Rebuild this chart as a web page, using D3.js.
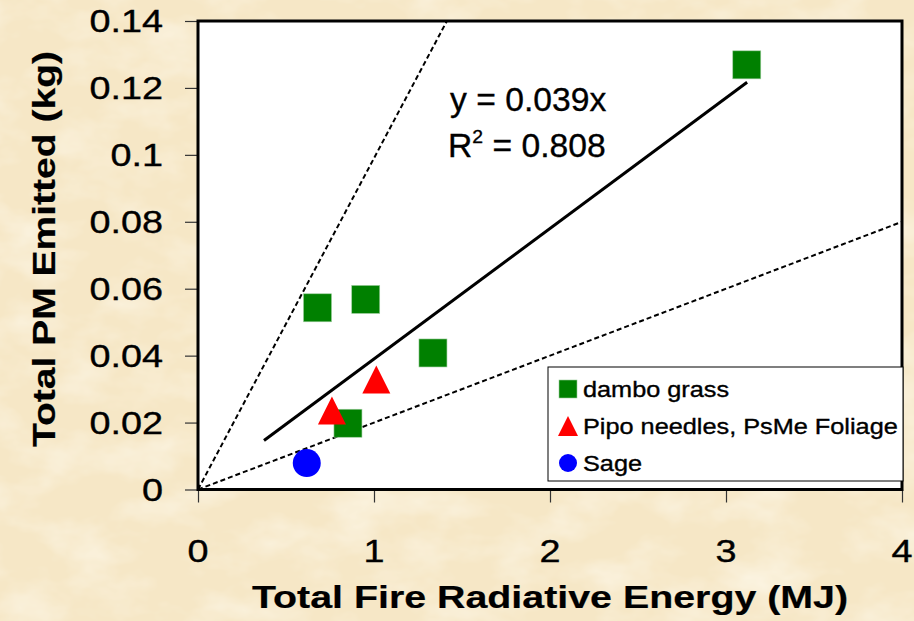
<!DOCTYPE html>
<html>
<head>
<meta charset="utf-8">
<script src="https://cdn.jsdelivr.net/npm/d3@7"></script>
<style>
  body { margin: 0; background: #f7e9cb; }
  svg { display: block; font-family: "Liberation Sans", Arial, sans-serif; }
</style>
</head>
<body>
<div id="chart"></div>
<script>
//Data
var dambo = [[0.679, 0.0543], [0.953, 0.0568], [1.335, 0.0408], [0.852, 0.0198], [3.118, 0.1269]];
var pipo = [[1.013, 0.0329], [0.761, 0.0236]];
var sage = [[0.618, 0.0079]];
var seriesNames = ["dambo grass", "Pipo needles, PsMe Foliage", "Sage"];
var seriesColors = ["#008000", "#ff0000", "#0000ff"];
var seriesShapes = ["square", "triangle", "circle"];
var trendSlope = 0.039;
var trendRange = [0.375, 3.12];
var boundSlopes = [0.099, 0.02];
var xTicks = [0, 1, 2, 3, 4];
var yTicks = [0, 0.02, 0.04, 0.06, 0.08, 0.1, 0.12, 0.14];
var eqText = "y = 0.039x";
var r2Text = "0.808";

//Sizes
var width = 914, height = 621;
var plot = {left: 198, right: 902, top: 21, bottom: 489.5};

var x = d3.scaleLinear().domain([0, 4]).range([plot.left, plot.right]);
var y = d3.scaleLinear().domain([0, 0.14]).range([plot.bottom, plot.top]);

var svg = d3.select("#chart").append("svg")
  .attr("width", width)
  .attr("height", height);

//Parchment background
var defs = svg.append("defs");
var tex = defs.append("filter").attr("id", "paper")
  .attr("x", 0).attr("y", 0).attr("width", "100%").attr("height", "100%");
tex.append("feTurbulence")
  .attr("type", "fractalNoise")
  .attr("baseFrequency", "0.015 0.025")
  .attr("numOctaves", 4)
  .attr("seed", 3);
tex.append("feColorMatrix")
  .attr("type", "matrix")
  .attr("values", "0 0 0 0 0.99  0 0 0 0 0.96  0 0 0 0 0.87  0 0 0 -1.2 0.7");
svg.append("rect")
  .attr("width", width).attr("height", height)
  .attr("fill", "#f6e7c6");
svg.append("rect")
  .attr("width", width).attr("height", height)
  .attr("filter", "url(#paper)");

//Plot area
svg.append("rect")
  .attr("x", plot.left).attr("y", plot.top)
  .attr("width", plot.right - plot.left)
  .attr("height", plot.bottom - plot.top)
  .attr("fill", "white");

//Stretched text helper (the picture's text is wider than normal)
function stretchText(parent, px, py, sx, txt, anchor, size, weight) {
  var g = parent.append("g")
    .attr("transform", "translate(" + px + "," + py + ") scale(" + sx + ",1)");
  return g.append("text")
    .attr("text-anchor", anchor)
    .attr("font-size", size)
    .attr("font-weight", weight || "normal")
    .attr("fill", "black")
    .attr("stroke", "black")
    .attr("stroke-width", weight ? 0.2 : 0.35)
    .text(txt);
}

//Axes ticks
svg.append("g")
  .attr("transform", "translate(" + plot.left + ",0)")
  .call(d3.axisLeft(y).tickValues(yTicks).tickSize(13).tickFormat(""))
  .call(g => g.select(".domain").remove())
  .selectAll("line").attr("stroke", "#333").attr("stroke-width", 1.2);
svg.append("g")
  .attr("transform", "translate(0," + plot.bottom + ")")
  .call(d3.axisBottom(x).tickValues(xTicks).tickSize(13).tickFormat(""))
  .call(g => g.select(".domain").remove())
  .selectAll("line").attr("stroke", "#333").attr("stroke-width", 1.2);

//Tick labels
yTicks.forEach(function(t) {
  stretchText(svg, 163, y(t) + 11, 1.24, d3.format("~g")(t), "end", 30.5);
});
xTicks.forEach(function(t) {
  stretchText(svg, x(t), 562, 1.24, t, "middle", 30.5);
});

//Axis titles
stretchText(svg, 550, 608, 1.23, "Total Fire Radiative Energy (MJ)", "middle", 32, "bold");
var yt = svg.append("g").attr("transform", "translate(55,249) rotate(-90)");
stretchText(yt, 0, 0, 1.22, "Total PM Emitted (kg)", "middle", 32, "bold");

//Clip for lines inside plot
defs.append("clipPath").attr("id", "plotclip")
  .append("rect")
  .attr("x", plot.left).attr("y", plot.top)
  .attr("width", plot.right - plot.left)
  .attr("height", plot.bottom - plot.top);

//Dashed bounding lines through origin
svg.append("g").attr("clip-path", "url(#plotclip)")
  .selectAll("line")
  .data(boundSlopes)
  .enter()
  .append("line")
  .attr("x1", x(0)).attr("y1", y(0))
  .attr("x2", function(s) { return x(Math.min(4, 0.14 / s)); })
  .attr("y2", function(s) { return y(Math.min(4, 0.14 / s) * s); })
  .attr("stroke", "black")
  .attr("stroke-width", 2)
  .attr("stroke-dasharray", "5,3");

//Markers
function drawMarker(sel, shape, color, size) {
  if (shape == "square") {
    sel.append("rect")
      .attr("x", -size / 2).attr("y", -size / 2)
      .attr("width", size).attr("height", size)
      .attr("fill", color)
      .attr("stroke", "#9ccc9c").attr("stroke-width", 0.6);
  } else if (shape == "triangle") {
    sel.append("path")
      .attr("d", "M0," + (-size / 2) + "L" + (size / 2) + "," + (size / 2) + "L" + (-size / 2) + "," + (size / 2) + "Z")
      .attr("fill", color);
  } else {
    sel.append("circle").attr("r", size / 2).attr("fill", color);
  }
}

var allSeries = [dambo, pipo, sage];
allSeries.forEach(function(data, i) {
  svg.append("g").selectAll("g")
    .data(data)
    .enter()
    .append("g")
    .attr("transform", function(d) { return "translate(" + x(d[0]) + "," + y(d[1]) + ")"; })
    .each(function() { drawMarker(d3.select(this), seriesShapes[i], seriesColors[i], 28); });
});

//Trend line
svg.append("line")
  .attr("x1", x(trendRange[0])).attr("y1", y(trendRange[0] * trendSlope))
  .attr("x2", x(trendRange[1])).attr("y2", y(trendRange[1] * trendSlope))
  .attr("stroke", "black")
  .attr("stroke-width", 3);

//Equation label
stretchText(svg, 450, 111, 1.02, eqText, "start", 33);
var r2 = stretchText(svg, 448, 157, 1.02, "R", "start", 33);
r2.append("tspan").attr("font-size", 19).attr("dy", -14).text("2");
r2.append("tspan").attr("dy", 14).text(" = " + r2Text);

//Frame
svg.append("rect")
  .attr("x", plot.left).attr("y", plot.top)
  .attr("width", plot.right - plot.left)
  .attr("height", plot.bottom - plot.top)
  .attr("fill", "none")
  .attr("stroke", "black")
  .attr("stroke-width", 3);

//Legend
var legend = svg.append("g");
legend.append("rect")
  .attr("x", 548).attr("y", 367)
  .attr("width", 355).attr("height", 114)
  .attr("fill", "white")
  .attr("stroke", "black")
  .attr("stroke-width", 1);
var rows = legend.selectAll("g.row")
  .data(seriesNames)
  .enter()
  .append("g")
  .attr("class", "row")
  .attr("transform", function(d, i) { return "translate(568," + (389 + i * 37) + ")"; });
rows.each(function(d, i) {
  drawMarker(d3.select(this), seriesShapes[i], seriesColors[i], i == 1 ? 20 : 18);
  stretchText(d3.select(this), 15, 8, 1.15, d, "start", 22);
});
</script>
</body>
</html>
